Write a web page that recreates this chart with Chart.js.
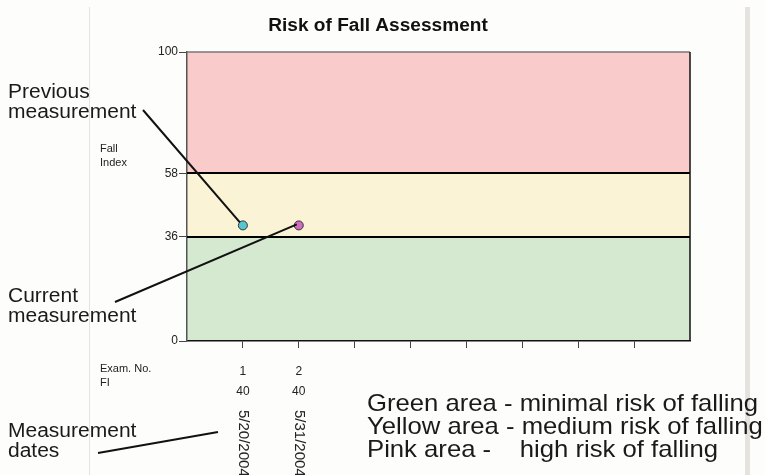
<!DOCTYPE html>
<html lang="en">
<head>
    <meta charset="UTF-8">
    <title>Risk of Fall Assessment</title>
    <script src="https://cdn.jsdelivr.net/npm/chart.js"></script>
    <style>
        body { margin: 0; background: #fdfdfb; }
        canvas { display: block; }
    </style>
</head>
<body>
    <canvas id="fallChart" width="765" height="475"></canvas>
    <script>
        // Data
        const examNo = [1, 2];
        const fallIndex = [40, 40];
        const examDates = ['5/20/2004', '5/31/2004'];
        const bandLimits = [0, 36, 58, 100];       // green / yellow / pink
        const yTickValues = [0, 36, 58, 100];
        const xTickValues = [1, 2, 3, 4, 5, 6, 7, 8];
        const pointColors = ['#55c6d0', '#d06cc0'];
        const bandColors = ['#d5e8d0', '#fbf3d5', '#f9cccb'];

        const legendLines = [
            'Green area - minimal risk of falling',
            'Yellow area - medium risk of falling',
            'Pink area -    high risk of falling'
        ];

        // background, bands and all the extra texts
        const decorPlugin = {
            id: 'decor',
            beforeDraw(chart) {
                const ctx = chart.ctx;
                const a = chart.chartArea;
                const y = chart.scales.y;
                ctx.save();
                ctx.fillStyle = '#fdfdfb';
                ctx.fillRect(0, 0, chart.width, chart.height);
                // frame lines of the old window
                ctx.fillStyle = '#e6e3de';
                ctx.fillRect(89, 7, 1, 468);
                ctx.fillRect(745, 7, 5, 468);
                // risk bands
                for (let i = 0; i < bandColors.length; i++) {
                    const top = y.getPixelForValue(bandLimits[i + 1]);
                    const bot = y.getPixelForValue(bandLimits[i]);
                    ctx.fillStyle = bandColors[i];
                    ctx.fillRect(a.left, top, a.right - a.left, bot - top);
                }
                ctx.restore();
            },
            beforeDatasetsDraw(chart) {
                const ctx = chart.ctx;
                const a = chart.chartArea;
                const y = chart.scales.y;
                ctx.save();
                // band borders
                ctx.strokeStyle = '#000';
                ctx.lineWidth = 2;
                [bandLimits[1], bandLimits[2]].forEach(v => {
                    const py = Math.round(y.getPixelForValue(v));
                    ctx.beginPath();
                    ctx.moveTo(a.left, py);
                    ctx.lineTo(a.right, py);
                    ctx.stroke();
                });
                // top and right frame
                ctx.lineWidth = 1.5;
                ctx.strokeStyle = '#777';
                ctx.beginPath();
                ctx.moveTo(a.left, a.top);
                ctx.lineTo(a.right, a.top);
                ctx.stroke();
                ctx.strokeStyle = '#111';
                ctx.beginPath();
                ctx.moveTo(a.right, a.top);
                ctx.lineTo(a.right, a.bottom);
                ctx.stroke();
                ctx.restore();
            },
            afterDraw(chart) {
                const ctx = chart.ctx;
                const x = chart.scales.x;
                const y = chart.scales.y;
                ctx.save();
                ctx.fillStyle = '#111';

                // title
                ctx.font = 'bold 18px "Liberation Sans", Arial, sans-serif';
                ctx.textAlign = 'center';
                ctx.textBaseline = 'alphabetic';
                ctx.save();
                ctx.translate(378, 31);
                ctx.scale(1.06, 1);
                ctx.fillText('Risk of Fall Assessment', 0, 0);
                ctx.restore();

                // axis captions
                ctx.font = '11px "Liberation Sans", Arial, sans-serif';
                ctx.textAlign = 'left';
                ctx.fillStyle = '#222';
                ctx.fillText('Fall', 100, 152);
                ctx.fillText('Index', 100, 166);
                ctx.fillText('Exam. No.', 100, 372);
                ctx.fillText('FI', 100, 386);

                // per exam labels under the axis
                examNo.forEach((n, i) => {
                    const px = x.getPixelForValue(n);
                    ctx.font = '12px "Liberation Sans", Arial, sans-serif';
                    ctx.textAlign = 'center';
                    ctx.fillText(String(n), px, 375);
                    ctx.fillText(String(fallIndex[i]), px, 395);
                    ctx.save();
                    ctx.font = '15px "Liberation Sans", Arial, sans-serif';
                    ctx.translate(px, 410);
                    ctx.rotate(Math.PI / 2);
                    ctx.textAlign = 'left';
                    ctx.textBaseline = 'middle';
                    ctx.fillText(examDates[i], 0, 0);
                    ctx.restore();
                });

                // call-out texts
                ctx.fillStyle = '#1a1a1a';
                ctx.font = '20px "Liberation Sans", Arial, sans-serif';
                ctx.textAlign = 'left';
                ctx.textBaseline = 'alphabetic';
                const callout = (lines, x0, y0) => {
                    lines.forEach((t, k) => {
                        ctx.save();
                        ctx.translate(x0, y0 + k * 20);
                        ctx.scale(1.05, 1);
                        ctx.fillText(t, 0, 0);
                        ctx.restore();
                    });
                };
                callout(['Previous', 'measurement'], 8, 98);
                callout(['Current', 'measurement'], 8, 302);
                callout(['Measurement', 'dates'], 8, 437);

                // call-out lines
                const p1x = x.getPixelForValue(examNo[0]);
                const p1y = y.getPixelForValue(fallIndex[0]);
                const p2x = x.getPixelForValue(examNo[1]);
                const p2y = y.getPixelForValue(fallIndex[1]);
                ctx.strokeStyle = '#111';
                ctx.lineWidth = 2;
                ctx.beginPath();
                ctx.moveTo(143, 110);
                ctx.lineTo(p1x - 3, p1y - 3);
                ctx.moveTo(115, 302);
                ctx.lineTo(p2x - 2, p2y - 1);
                ctx.moveTo(98, 453);
                ctx.lineTo(218, 432);
                ctx.stroke();

                // colour legend text
                ctx.font = '24px "Liberation Sans", Arial, sans-serif';
                legendLines.forEach((t, k) => {
                    ctx.save();
                    ctx.translate(367, 411 + k * 23);
                    ctx.scale(1.07, 1);
                    ctx.fillText(t, 0, 0);
                    ctx.restore();
                });
                ctx.restore();
            }
        };

        const ctx = document.getElementById('fallChart').getContext('2d');
        new Chart(ctx, {
            type: 'scatter',
            data: {
                datasets: [{
                    data: examNo.map((n, i) => ({ x: n, y: fallIndex[i] })),
                    pointBackgroundColor: pointColors,
                    pointBorderColor: '#333',
                    pointBorderWidth: 1,
                    pointRadius: 4.5,
                    showLine: false
                }]
            },
            options: {
                responsive: false,
                animation: false,
                layout: { padding: { top: 52, right: 75, left: 0, bottom: 0 } },
                plugins: {
                    legend: { display: false },
                    tooltip: { enabled: false }
                },
                scales: {
                    x: {
                        type: 'linear',
                        min: 0,
                        max: 9,
                        afterBuildTicks: s => { s.ticks = xTickValues.map(v => ({ value: v })); },
                        afterFit: s => { s.height = 134; },
                        ticks: { display: false },
                        grid: { drawOnChartArea: false, drawTicks: true, tickLength: 7, color: '#444' },
                        border: { color: '#111', width: 1.5 }
                    },
                    y: {
                        min: 0,
                        max: 100,
                        afterBuildTicks: s => { s.ticks = yTickValues.map(v => ({ value: v })); },
                        afterFit: s => { s.width = 187; },
                        ticks: {
                            color: '#222',
                            padding: 1,
                            font: { family: '"Liberation Sans", Arial, sans-serif', size: 12 }
                        },
                        grid: { drawOnChartArea: false, drawTicks: true, tickLength: 8, color: '#444' },
                        border: { color: '#555', width: 1.5 }
                    }
                }
            },
            plugins: [decorPlugin]
        });
    </script>
</body>
</html>
